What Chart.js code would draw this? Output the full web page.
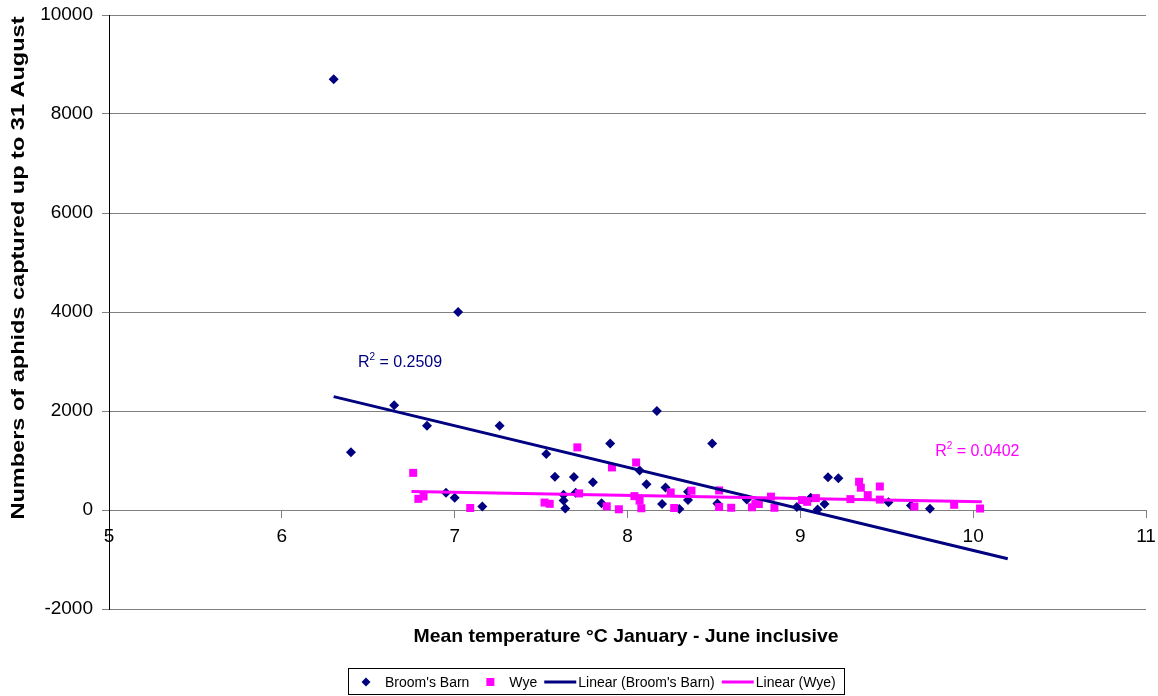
<!DOCTYPE html>
<html>
<head>
<meta charset="utf-8">
<script src="https://cdn.jsdelivr.net/npm/chart.js@4/dist/chart.umd.min.js"></script>
<style>
  html,body{margin:0;padding:0;background:#fff;}
  #wrap{width:1158px;height:696px;}
</style>
</head>
<body>
<div id="wrap"><canvas id="aphidChart" width="1158" height="696"></canvas></div>
<script>
// Data
const broomsX=[6.30,6.40,6.65,6.84,6.95,7.00,7.02,7.16,7.26,7.53,7.58,7.63,7.63,7.64,7.69,7.70,7.80,7.85,7.90,8.07,8.11,8.17,8.20,8.22,8.30,8.35,8.35,8.49,8.52,8.69,8.98,9.06,9.10,9.14,9.16,9.22,9.51,9.64,9.75];
const broomsY=[8700,1165,2115,1700,350,245,4000,70,1700,1130,670,310,190,30,665,350,560,135,1345,800,520,2000,120,455,20,370,200,1345,130,210,60,250,10,120,660,640,155,90,25];
const wyeX=[6.76,6.79,6.82,7.09,7.52,7.55,7.71,7.72,7.88,7.91,7.95,8.04,8.05,8.07,8.08,8.25,8.27,8.37,8.53,8.53,8.60,8.72,8.74,8.76,8.83,8.85,9.01,9.04,9.09,9.29,9.34,9.35,9.39,9.46,9.46,9.66,9.89,10.04];
const wyeY=[750,225,275,40,150,125,1265,335,75,860,15,280,960,190,35,355,40,390,395,60,45,55,130,120,270,45,200,165,240,220,570,450,300,475,210,70,105,30];

// Linear trend lines (end points)
const broomsTrendX=[6.30,10.20];
const broomsTrendY=[2290,-985];
const wyeTrendX=[6.75,10.05];
const wyeTrendY=[376,168];

// Axis ranges / ticks
const xRange=[5,11];
const yRange=[-2000,10000];
const xStep=1, yStep=2000;

// R squared labels: [x, y, value]
const broomsR2=[6.44,2880,'0.2509'];
const wyeR2=[9.78,1085,'0.0402'];

const seriesNames=["Broom's Barn","Wye","Linear (Broom's Barn)","Linear (Wye)"];
const xTitle='Mean temperature \u00b0C January - June inclusive';
const yTitle='Numbers of aphids captured up to 31 August';
const navy='#000080', magenta='#FF00FF';
const FONT='Arial, "Liberation Sans", sans-serif';

const toPoints=(xs,ys)=>xs.map((x,i)=>({x:x,y:ys[i]}));

// draw text stretched along its run to a given length
function stretchedText(ctx,text,cx,cy,len,angle){
  const w=ctx.measureText(text).width;
  ctx.save();
  ctx.translate(cx,cy);
  ctx.rotate(angle);
  ctx.scale(len/w,1);
  ctx.fillText(text,0,0);
  ctx.restore();
}

// Titles, R² notes and boxed legend
const chartText={
  id:'chartText',
  afterDraw(chart){
    const {ctx,scales:{x,y}}=chart;
    ctx.save();
    ctx.fillStyle='#000';
    ctx.textBaseline='middle';

    // axis titles
    ctx.font='bold 19px '+FONT;
    ctx.textAlign='center';
    stretchedText(ctx,xTitle,626,637,425,0);
    stretchedText(ctx,yTitle,19,268,503,-Math.PI/2);

    // R² notes
    const r2=(item,color)=>{
      let px=x.getPixelForValue(item[0]), py=y.getPixelForValue(item[1]);
      ctx.fillStyle=color;
      ctx.textAlign='left';
      ctx.textBaseline='alphabetic';
      ctx.font='16px '+FONT;
      ctx.fillText('R',px,py);
      px+=ctx.measureText('R').width;
      ctx.font='10px '+FONT;
      ctx.fillText('2',px,py-7);
      px+=ctx.measureText('2').width;
      ctx.font='16px '+FONT;
      ctx.fillText(' = '+item[2],px,py);
    };
    r2(broomsR2,navy);
    r2(wyeR2,magenta);

    // legend
    ctx.font='14px '+FONT;
    ctx.textBaseline='middle';
    ctx.textAlign='left';
    const ly=682;
    let lx=345;
    const boxLeft=lx+3;
    chart.data.datasets.forEach((ds,i)=>{
      const isLine=ds.showLine===true;
      let tx;
      if(isLine){
        ctx.strokeStyle=ds.borderColor;
        ctx.lineWidth=3;
        ctx.beginPath();
        ctx.moveTo(lx+7,ly);
        ctx.lineTo(lx+39,ly);
        ctx.stroke();
        tx=lx+41;
      }else{
        ctx.fillStyle=ds.backgroundColor;
        const cx=lx+21;
        if(ds.pointStyle==='rectRot'){
          ctx.beginPath();
          ctx.moveTo(cx,ly-4.5);ctx.lineTo(cx+4.5,ly);ctx.lineTo(cx,ly+4.5);ctx.lineTo(cx-4.5,ly);
          ctx.closePath();ctx.fill();
        }else{
          ctx.fillRect(cx-4,ly-4,8,8);
        }
        tx=lx+40;
      }
      ctx.fillStyle='#000';
      ctx.fillText(seriesNames[i],tx,ly+1);
      lx=tx+ctx.measureText(seriesNames[i]).width;
    });
    ctx.strokeStyle='#000';
    ctx.lineWidth=1;
    ctx.strokeRect(boxLeft+0.5,668.5,Math.round(lx+8-boxLeft),26);
    ctx.restore();
  }
};

new Chart(document.getElementById('aphidChart').getContext('2d'),{
  type:'scatter',
  data:{
    datasets:[
      {label:seriesNames[0],data:toPoints(broomsX,broomsY),pointStyle:'rectRot',pointRadius:5,
       backgroundColor:navy,borderColor:navy,borderWidth:0,order:4},
      {label:seriesNames[1],data:toPoints(wyeX,wyeY),pointStyle:'rect',pointRadius:5.66,
       backgroundColor:magenta,borderColor:magenta,borderWidth:0,order:3},
      {label:seriesNames[2],data:toPoints(broomsTrendX,broomsTrendY),showLine:true,pointRadius:0,
       borderColor:navy,backgroundColor:navy,borderWidth:3,fill:false,order:2},
      {label:seriesNames[3],data:toPoints(wyeTrendX,wyeTrendY),showLine:true,pointRadius:0,
       borderColor:magenta,backgroundColor:magenta,borderWidth:3,fill:false,order:1}
    ]
  },
  options:{
    responsive:false,
    animation:false,
    devicePixelRatio:1,
    events:[],
    layout:{padding:{left:0,top:15,right:12,bottom:87}},
    plugins:{legend:{display:false},tooltip:{enabled:false},title:{display:false}},
    scales:{
      x:{
        type:'linear',min:xRange[0],max:xRange[1],
        position:{y:0},
        ticks:{stepSize:xStep,color:'#000',font:{family:FONT,size:19},padding:8,maxRotation:0,
               callback:v=>String(v)},
        grid:{display:true,drawOnChartArea:false,drawTicks:true,tickLength:7,color:'#808080'},
        border:{display:true,color:'#808080',width:1},
        afterFit(scale){scale.paddingLeft=0;scale.paddingRight=0;scale.paddingTop=0;scale.paddingBottom=0;}
      },
      y:{
        type:'linear',min:yRange[0],max:yRange[1],
        ticks:{stepSize:yStep,color:'#000',font:{family:FONT,size:19},padding:9,
               callback:v=>String(v)},
        grid:{color:'#808080',tickLength:7,drawTicks:true},
        border:{display:true,color:'#000',width:1},
        afterFit(scale){scale.width=109;scale.paddingTop=0;scale.paddingBottom=0;}
      }
    }
  },
  plugins:[chartText]
});
</script>
</body>
</html>
